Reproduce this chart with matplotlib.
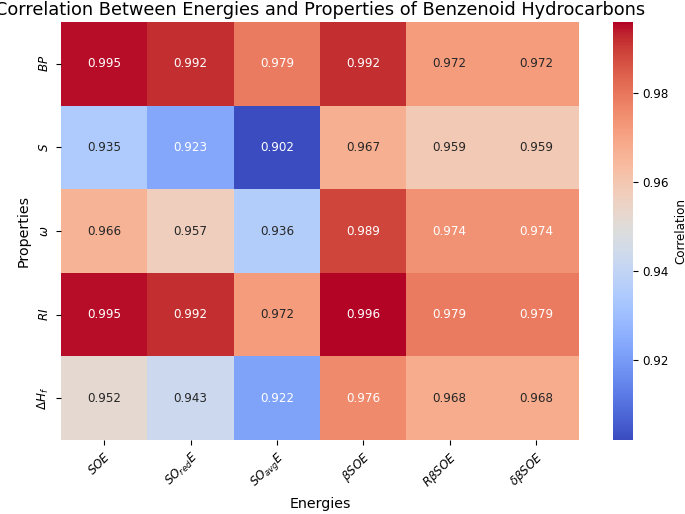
import matplotlib
matplotlib.use("Agg")
import matplotlib.pyplot as plt
import seaborn as sns
import numpy as np
import pandas as pd

energies = [r"$SOE$", r"$SO_{red}E$", r"$SO_{avg}E$", r"$\beta SOE$", r"$R\beta SOE$", r"$\delta\beta SOE$"]
properties = [r"$BP$", r"$S$", r"$\omega$", r"$RI$", r"$\Delta H_f$"]

bp = [0.995, 0.992, 0.979, 0.992, 0.972, 0.972]
s = [0.935, 0.923, 0.902, 0.967, 0.959, 0.959]
omega = [0.966, 0.957, 0.936, 0.989, 0.974, 0.974]
ri = [0.995, 0.992, 0.972, 0.996, 0.979, 0.979]
dhf = [0.952, 0.943, 0.922, 0.976, 0.968, 0.968]

df = pd.DataFrame([bp, s, omega, ri, dhf], index=properties, columns=energies)

fig = plt.figure(figsize=(6.85, 5.14), dpi=100)
ax = fig.add_axes([61/685, 74/514, 518/685, 418/514])
cax = fig.add_axes([613/685, 74/514, 20/685, 418/514])

sns.heatmap(df, annot=True, fmt=".3f", cmap="coolwarm", ax=ax, cbar_ax=cax,
            annot_kws={"fontsize": 8.6},
            cbar_kws={"label": "Correlation"})

ax.set_title("Correlation Between Energies and Properties of Benzenoid Hydrocarbons",
             fontsize=12.8, pad=5)
ax.set_xlabel("Energies", fontsize=10.3)
ax.set_ylabel("Properties", fontsize=10.3)
ax.set_xticklabels(energies, rotation=45, ha="right", rotation_mode="anchor", fontsize=8.6)
ax.set_yticklabels(properties, rotation=90, va="center", fontsize=8.6)
cax.tick_params(labelsize=8.6)
cax.yaxis.label.set_size(8.6)
cax.set_yticks([0.92, 0.94, 0.96, 0.98])

fig.savefig("out.png", dpi=100)
